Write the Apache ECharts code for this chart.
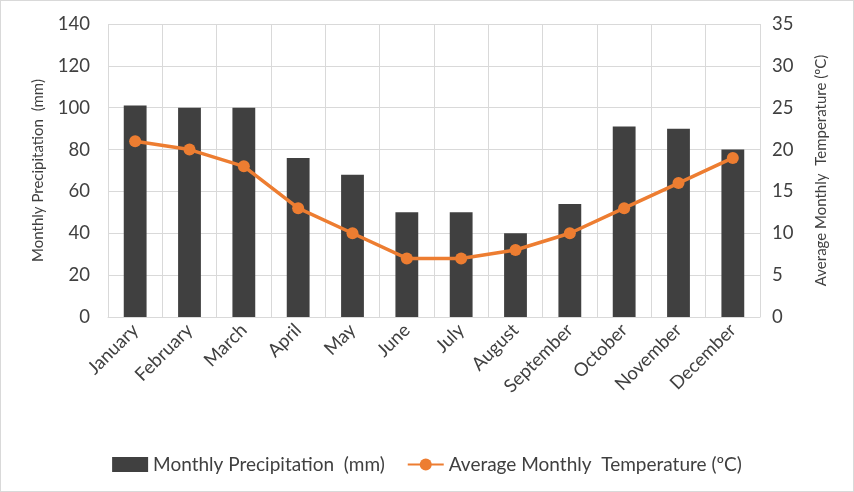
<!DOCTYPE html>
<html><head><meta charset="utf-8">
<script src="https://cdn.jsdelivr.net/npm/echarts@6/dist/echarts.min.js"></script>
<style>html,body{margin:0;padding:0;background:#fff}#c{width:852px;height:490px;border:1px solid #d9d9d9}</style>
</head><body><div id="c"></div>
<script>
const months=['January','February','March','April','May','June','July','August','September','October','November','December'];
const precipitation=[101,100,100,76,68,50,50,40,54,91,90,80];
const temperature=[21,20,18,13,10,7,7,8,10,13,16,19];
const font='Lato, "Noto Sans", sans-serif';
const chart=echarts.init(document.getElementById('c'));
chart.setOption({
  textStyle:{fontFamily:font},
  grid:{left:107,right:93,top:23,bottom:174},
  legend:{bottom:12,left:'center',itemGap:22,itemWidth:36,itemHeight:15,
    textStyle:{fontSize:19,color:'#404040',fontFamily:font},
    data:[{name:'Monthly Precipitation  (mm)',icon:'rect'},{name:'Average Monthly  Temperature (ºC)'}]},
  xAxis:{type:'category',data:months,
    axisLine:{lineStyle:{color:'#d9d9d9'}},axisTick:{show:false},
    splitLine:{show:true,lineStyle:{color:'#d9d9d9'}},
    axisLabel:{rotate:45,fontSize:18.5,color:'#404040',interval:0,margin:10}},
  yAxis:[
    {type:'value',min:0,max:140,interval:20,name:'Monthly Precipitation  (mm)',nameLocation:'middle',nameGap:62,
     nameTextStyle:{fontSize:15,color:'#404040'},
     axisLabel:{fontSize:18.5,color:'#404040',margin:18},splitLine:{lineStyle:{color:'#d9d9d9'}}},
    {type:'value',min:0,max:35,interval:5,name:'Average Monthly  Temperature (ºC)',nameLocation:'middle',nameGap:54,nameRotate:90,
     nameTextStyle:{fontSize:15,color:'#404040'},
     axisLabel:{fontSize:18.5,color:'#404040',margin:12},splitLine:{show:false}}
  ],
  series:[
    {name:'Monthly Precipitation  (mm)',type:'bar',data:precipitation,barWidth:'42%',itemStyle:{color:'#404040'}},
    {name:'Average Monthly  Temperature (ºC)',type:'line',yAxisIndex:1,data:temperature,symbol:'circle',symbolSize:12,
     lineStyle:{color:'#ed7d31',width:3.5},itemStyle:{color:'#ed7d31'}}
  ]
});
</script></body></html>
